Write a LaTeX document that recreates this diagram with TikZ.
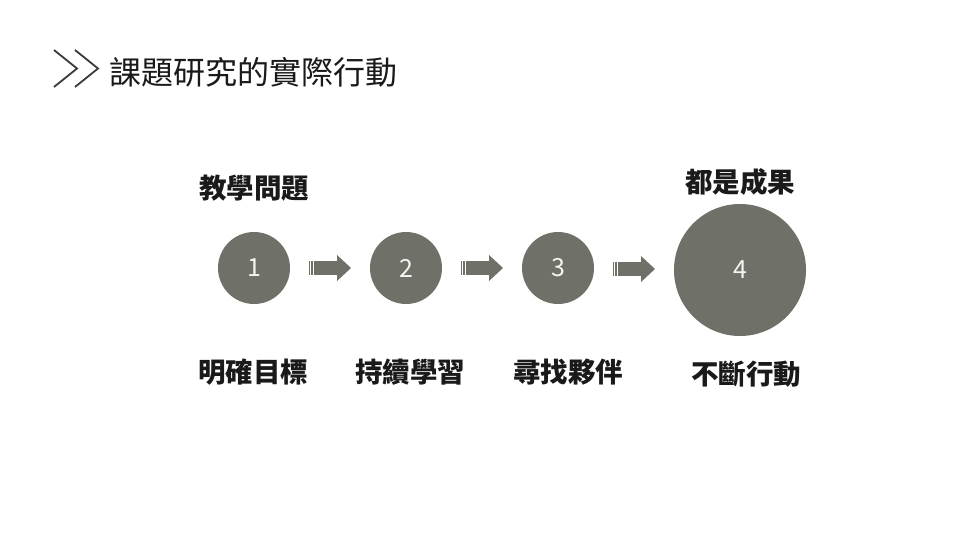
\documentclass[tikz,border=0pt]{standalone}
\usepackage{fontspec}
\newfontfamily\cjk{Noto Sans CJK TC}
\usepackage{xcolor}
\usepackage{tikz}
\usetikzlibrary{positioning}
\definecolor{cdisk}{HTML}{6F7169}
\definecolor{cink}{HTML}{1A1A1A}
\definecolor{cchev}{HTML}{3A3A3A}
\tikzset{
  disk/.style={circle,fill=cdisk,inner sep=0pt,minimum size=72pt,text=white!92!cdisk,font=\cjk\fontsize{25}{25}\selectfont},
  stagelabel/.style={text=cink,font=\cjk\bfseries\fontsize{27.5}{30}\selectfont},
  fwd/.pic={
    \fill[cdisk] (-21,-7) rectangle (-19.6,7);
    \fill[cdisk] (-18.6,-7) rectangle (-17,7);
    \fill[cdisk] (-16,-7) rectangle (7,7);
    \fill[cdisk] (7,-13) -- (21,0) -- (7,13) -- cycle;
  }
}

\begin{document}
\begin{tikzpicture}[x=1pt,y=-1pt]
\useasboundingbox[fill=white] (0,0) rectangle (960,540);

% ============ title ============
\draw[cchev,line width=1.8pt] (54,50) -- (77,68.5) -- (54,87);
\draw[cchev,line width=1.8pt] (75,50) -- (98,68.5) -- (75,87);
\node[anchor=west,text=cink,font=\cjk\fontsize{32}{36}\selectfont] (title) at (106,72) {課題研究的實際行動};

% ============ stages ============
\node[disk] (c1) at (254,268) {1};
\node[disk] (c2) at (406,268) {2};
\node[disk] (c3) at (558,268) {3};
\node[disk,minimum size=132pt] (c4) at (740,270) {4};

\path (c1.east) -- (c2.west) pic[pos=.5] {fwd};
\path (c2.east) -- (c3.west) pic[pos=.5] {fwd};
\path (c3.east) -- (c4.west) pic[pos=.5] {fwd};

\node[stagelabel] (t1) at (254,188) {教學問題};
\node[stagelabel] (t4) at (740,182) {都是成果};

\node[stagelabel] (b1) at (253,372) {明確目標};
\node[stagelabel] (b2) at (410,372) {持續學習};
\node[stagelabel] (b3) at (568,372) {尋找夥伴};
\node[stagelabel] (b4) at (746,374) {不斷行動};

\end{tikzpicture}
\end{document}
